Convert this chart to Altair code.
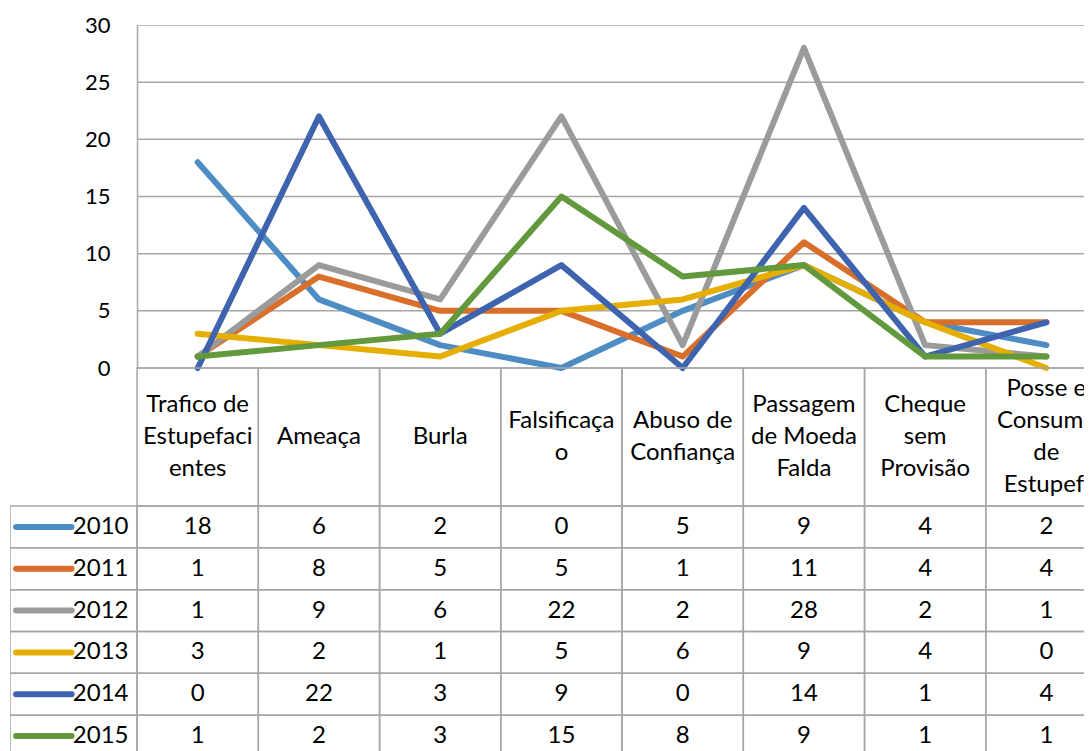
import altair as alt
import pandas as pd

# ---- data ----
categories = [
    "Trafico de\nEstupefaci\nentes",
    "Ameaça",
    "Burla",
    "Falsificaça\no",
    "Abuso de\nConfiança",
    "Passagem\nde Moeda\nFalda",
    "Cheque\nsem\nProvisão",
    "Posse e\nConsume\nde\nEstupef.",
]
years = ["2010", "2011", "2012", "2013", "2014", "2015"]
v2010 = [18, 6, 2, 0, 5, 9, 4, 2]
v2011 = [1, 8, 5, 5, 1, 11, 4, 4]
v2012 = [1, 9, 6, 22, 2, 28, 2, 1]
v2013 = [3, 2, 1, 5, 6, 9, 4, 0]
v2014 = [0, 22, 3, 9, 0, 14, 1, 4]
v2015 = [1, 2, 3, 15, 8, 9, 1, 1]
series = [v2010, v2011, v2012, v2013, v2014, v2015]
colors = ["#4E8DC4", "#DA6F2B", "#9B9B9B", "#E6AE00", "#3E64AF", "#63993D"]
y_ticks = [0, 5, 10, 15, 20, 25, 30]

# ---- layout / style ----
FONT = "Lato"
GRID = "#A6A6A6"
XMIN = -1.048
XMAX = 7.810
W = 1074
H_PLOT = 343
H_HDR = 138
H_TAB = 251
H = H_PLOT + H_HDR + H_TAB
XS = alt.Scale(domain=[XMIN, XMAX], nice=False, zero=False)
YV = alt.Scale(domain=[0, 30], range=[H_PLOT, 0], nice=False, zero=False)
LINE_H = 32
YH = alt.Scale(domain=[-H_HDR / (2 * LINE_H), H_HDR / (2 * LINE_H)],
               range=[H_PLOT, H_PLOT + H_HDR], nice=False, zero=False)
YS = alt.Scale(domain=years, range=[H_PLOT + H_HDR, H], paddingInner=0, paddingOuter=0)

rows = []
for yr, vals in zip(years, series):
    for i, v in enumerate(vals):
        rows.append({"year": yr, "pos": i + 0.5, "value": v, "label": str(v)})
df = pd.DataFrame(rows)

color = alt.Color("year:N", scale=alt.Scale(domain=years, range=colors), legend=None)

# ---- line plot ----
grid_df = pd.DataFrame({"g": y_ticks, "a": [0] * len(y_ticks), "b": [8] * len(y_ticks)})
grid = alt.Chart(grid_df).mark_rule(color=GRID, strokeWidth=1.5, clip=True).encode(
    x=alt.X("a:Q", scale=XS, axis=None),
    x2="b:Q",
    y=alt.Y(
        "g:Q",
        scale=YV,
        axis=alt.Axis(
            values=y_ticks, offset=-127, ticks=False, labelPadding=27, orient="left",
            labelFont=FONT, labelFontSize=22, labelColor="black",
            domainColor=GRID, domainWidth=1.5, grid=False, title=None,
        ),
    ),
)
lines = alt.Chart(df).mark_line(strokeWidth=6, strokeCap="round", strokeJoin="round").encode(
    x=alt.X("pos:Q", scale=XS, axis=None),
    y=alt.Y("value:Q", scale=YV, axis=None),
    color=color,
)

# ---- header row (category names) ----
hdr_df = pd.DataFrame({"x0": list(range(8)), "x1": list(range(1, 9))})
line_rows = []
for i, cat in enumerate(categories):
    parts = cat.split("\n")
    n = len(parts)
    for k, p in enumerate(parts):
        line_rows.append({"pos": i + 0.5, "txt": p, "lo": k - (n - 1) / 2})
line_df = pd.DataFrame(line_rows)
hdr_rect = alt.Chart(hdr_df).mark_rect(fillOpacity=0, stroke=GRID, strokeWidth=1.5, clip=True).encode(
    x=alt.X("x0:Q", scale=XS, axis=None), x2="x1:Q",
    y=alt.value(H_PLOT), y2=alt.value(H_PLOT + H_HDR),
)
hdr_text = alt.Chart(line_df).mark_text(
    font=FONT, fontSize=24, baseline="middle", align="center", color="black", clip=True,
).encode(
    x=alt.X("pos:Q", scale=XS, axis=None),
    y=alt.Y("lo:Q", scale=YH, axis=None),
    text="txt:N",
)

# ---- data table ----
cell_rows = []
for yr in years:
    for c in range(-1, 8):
        cell_rows.append({"year": yr, "x0": XMIN if c == -1 else c, "x1": c + 1})
cell_df = pd.DataFrame(cell_rows)
cells = alt.Chart(cell_df).mark_rect(fillOpacity=0, stroke=GRID, strokeWidth=1.5, clip=True).encode(
    x=alt.X("x0:Q", scale=XS, axis=None), x2="x1:Q",
    y=alt.Y("year:N", scale=YS, axis=alt.Axis(
        orient="left", offset=-127, labelPadding=9, ticks=False, domain=False,
        labelFont=FONT, labelFontSize=24, labelColor="black", title=None,
    )),
)
vals = alt.Chart(df).mark_text(font=FONT, fontSize=24, color="black", baseline="middle").encode(
    x=alt.X("pos:Q", scale=XS, axis=None),
    y=alt.Y("year:N", scale=YS, axis=None),
    text="label:N",
)
sw_df = pd.DataFrame({"year": years, "s0": [-0.998] * 6, "s1": [-0.54] * 6})
swatch = alt.Chart(sw_df).mark_rule(strokeWidth=6, strokeCap="round").encode(
    x=alt.X("s0:Q", scale=XS, axis=None), x2="s1:Q",
    y=alt.Y("year:N", scale=YS, axis=None),
    color=color,
)

chart = alt.layer(
    grid, lines, hdr_rect, hdr_text, cells, swatch, vals
).resolve_scale(y="independent").properties(
    width=W, height=H,
    autosize=alt.AutoSizeParams(type="none"),
    padding={"left": 2, "top": 17, "right": 0, "bottom": 0},
).configure_view(stroke="transparent")

chart.save("out.html", embed_options={"renderer": "svg", "actions": False})
